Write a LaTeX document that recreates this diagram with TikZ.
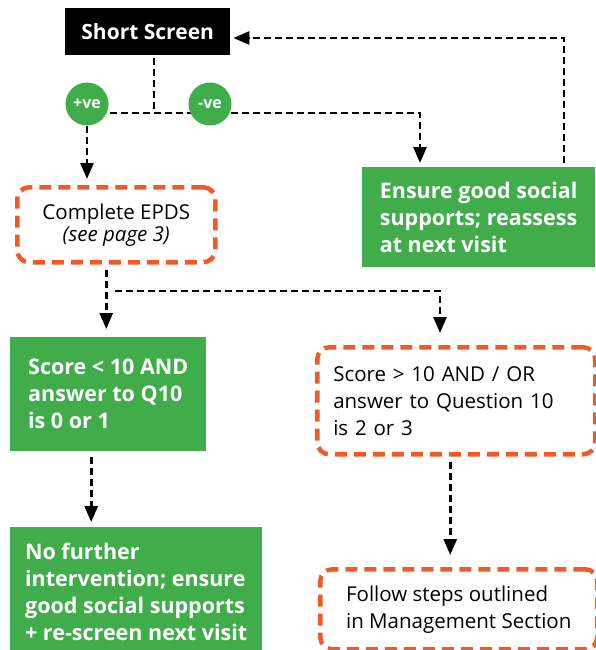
\documentclass[tikz,border=0pt]{standalone}
\usepackage{fontspec}
\setmainfont{Open Sans}
\usetikzlibrary{arrows.meta}
\definecolor{nhsgreen}{RGB}{64,173,74}
\definecolor{alertorange}{RGB}{240,90,40}

\begin{document}
\begin{tikzpicture}[x=1pt,y=-1pt,
  link/.style={line width=2.8pt,dash pattern=on 7pt off 4pt},
  arr/.style={-{Triangle[width=13pt,length=16pt]}},
  greenbox/.style={rectangle,fill=nhsgreen,text=white,font=\fontsize{21.5}{27}\selectfont\bfseries,align=left,anchor=north west,inner sep=0pt},
  orangebox/.style={rectangle,draw=alertorange,line width=4.5pt,dash pattern=on 12pt off 7pt,rounded corners=12pt,font=\fontsize{20.5}{27}\selectfont,anchor=north west,inner sep=0pt},
  badge/.style={circle,fill=nhsgreen,text=white,font=\fontsize{16}{16}\selectfont\bfseries,minimum size=43pt,inner sep=0pt}]
\useasboundingbox (0,0) rectangle (595,650);
\node (short)     at (65,8)    [rectangle,fill=black,text=white,font=\fontsize{21}{21}\selectfont\bfseries,anchor=north west,minimum width=165pt,minimum height=47pt,inner sep=0pt] {Short Screen};
\node (supports)  at (362,167) [greenbox,minimum width=233pt,minimum height=100pt] {Ensure good social\\supports; reassess\\at next visit};
\node (epds)      at (15,185)  [orangebox,minimum width=198pt,minimum height=75pt,align=center,font=\fontsize{20.5}{22}\selectfont] {Complete EPDS\\\textit{(see page 3)}};
\node (lowscore)  at (10,337)  [greenbox,minimum width=196pt,minimum height=114pt] {Score < 10 AND\\answer to Q10\\is 0 or 1};
\node (highscore) at (315,345) [orangebox,minimum width=278pt,minimum height=107pt,text width=246pt,align=left] {Score > 10 AND / OR\\answer to Question 10\\is 2 or 3};
\node (follow)    at (318,567) [orangebox,minimum width=277pt,minimum height=80pt,align=left] {Follow steps outlined\\in Management Section};
\node (nofurther) at (10,527)  [greenbox,minimum width=252pt,minimum height=130pt] {No further\\intervention; ensure\\good social supports\\+ re-screen next visit};
% branch points of the dashed connectors
\coordinate (branch)     at (154,113);
\coordinate (posjoin)    at (88,113);
\coordinate (negturn)    at (420,113);
\coordinate (backturn)   at (564,38);
\coordinate (splitstart) at (115,291);
\coordinate (splitturn)  at (440,291);
\draw [link] ([yshift=-3pt]short.south -| branch) -- (branch);
\draw [link,arr,shorten >=4pt] (posjoin) -- (negturn) -- (supports.north -| negturn);
\node (pos) at (87,104)  [badge] {+ve};
\node (neg) at (210,104) [badge] {-ve};
\draw [link,arr,shorten >=6pt] (pos.south) -- (epds.north -| pos.south);
\draw [link,arr,shorten <=4pt,shorten >=3pt] (supports.north -| backturn) -- (backturn) -- (short.east |- backturn);
\draw [link,arr,shorten <=5pt,shorten >=8pt] ([xshift=-10pt]epds.south) -- ([xshift=-10pt]epds.south |- lowscore.north);
\draw [link,arr,shorten >=12pt] (splitstart) -- (splitturn) -- (highscore.north -| splitturn);
\draw [link,arr,shorten <=6pt,shorten >=5pt] ([xshift=-17pt]lowscore.south) -- ([xshift=-17pt]lowscore.south |- nofurther.north);
\draw [link,arr,shorten <=5pt,shorten >=12pt] ([xshift=-6pt]highscore.south) -- ([xshift=-6pt]highscore.south |- follow.north);
\end{tikzpicture}
\end{document}
